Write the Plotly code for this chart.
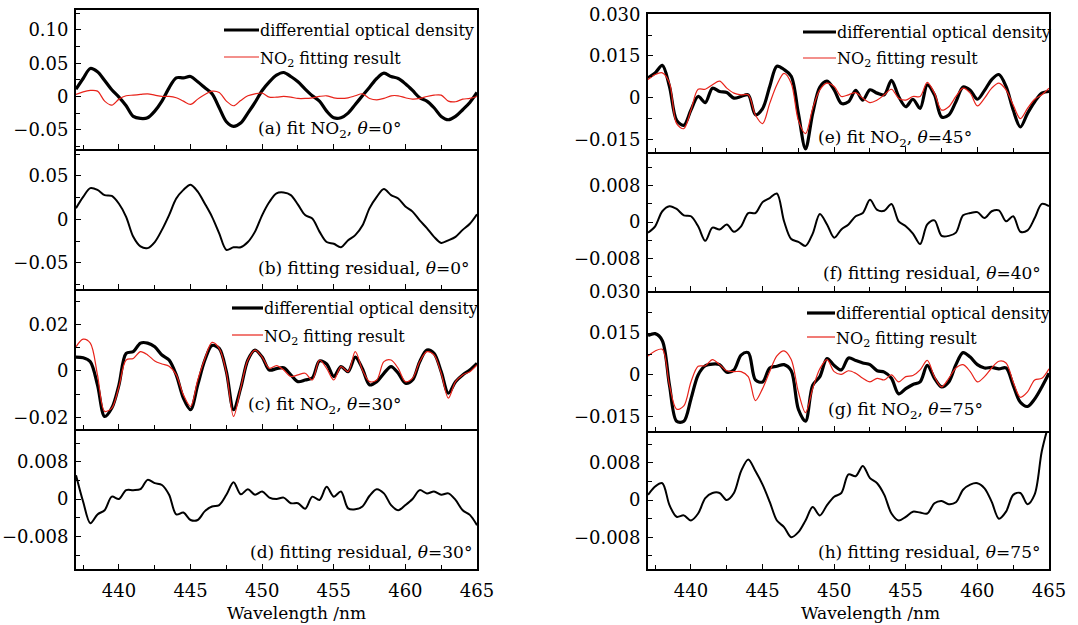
import plotly.graph_objects as go

# Wavelength grid (nm) shared by every curve
wavelength = [437.0, 437.5, 438.0, 438.5, 439.0, 439.5, 440.0, 440.5, 441.0, 441.5,
              442.0, 442.5, 443.0, 443.5, 444.0, 444.5, 445.0, 445.5, 446.0, 446.5,
              447.0, 447.5, 448.0, 448.5, 449.0, 449.5, 450.0, 450.5, 451.0, 451.5,
              452.0, 452.5, 453.0, 453.5, 454.0, 454.5, 455.0, 455.5, 456.0, 456.5,
              457.0, 457.5, 458.0, 458.5, 459.0, 459.5, 460.0, 460.5, 461.0, 461.5,
              462.0, 462.5, 463.0, 463.5, 464.0, 464.5, 465.0]

# (a) theta = 0 deg
a_dod = [0.011, 0.027, 0.042, 0.037, 0.024, 0.010, -0.001, -0.014, -0.030, -0.033,
         -0.032, -0.022, -0.007, 0.013, 0.028, 0.028, 0.030, 0.022, 0.013, 0.004,
         -0.017, -0.038, -0.045, -0.040, -0.025, -0.009, 0.009, 0.022, 0.032, 0.036,
         0.030, 0.022, 0.011, 0.001, -0.007, -0.022, -0.032, -0.032, -0.025, -0.012,
         0.001, 0.014, 0.027, 0.035, 0.030, 0.027, 0.019, 0.009, -0.002, -0.007,
         -0.017, -0.030, -0.035, -0.030, -0.020, -0.009, 0.006]
a_no2 = [0.003, 0.007, 0.009, 0.008, -0.007, -0.013, -0.004, 0.001, 0.002, 0.003,
         0.004, 0.002, 0.000, 0.000, -0.002, -0.007, -0.012, -0.004, 0.003, 0.008,
         0.006, -0.007, -0.014, -0.006, 0.001, 0.004, 0.005, -0.001, -0.001, 0.000,
         -0.001, -0.003, -0.003, -0.002, 0.000, 0.001, -0.002, -0.003, -0.002, 0.001,
         0.004, -0.003, -0.005, -0.003, 0.001, 0.001, -0.002, -0.004, -0.003, 0.000,
         0.002, 0.002, -0.007, -0.008, -0.004, -0.003, 0.000]
# (b) residual, theta = 0 deg
b_res = [0.013, 0.026, 0.036, 0.034, 0.028, 0.027, 0.018, 0.003, -0.020, -0.031,
         -0.033, -0.026, -0.012, 0.005, 0.024, 0.034, 0.040, 0.032, 0.018, 0.003,
         -0.016, -0.035, -0.032, -0.032, -0.026, -0.014, 0.005, 0.020, 0.030, 0.031,
         0.028, 0.017, 0.005, 0.001, -0.014, -0.026, -0.028, -0.032, -0.024, -0.018,
         -0.007, 0.013, 0.026, 0.035, 0.028, 0.024, 0.015, 0.009, -0.001, -0.010,
         -0.020, -0.027, -0.024, -0.020, -0.012, -0.005, 0.006]
# (c) theta = 30 deg
c_dod = [0.0060, 0.0057, 0.0040, -0.0060, -0.0196, -0.0160, -0.0060, 0.0076, 0.0083, 0.0120,
         0.0120, 0.0104, 0.0069, 0.0047, -0.0017, -0.0117, -0.0167, -0.0060, 0.0047, 0.0110,
         0.0097, -0.0003, -0.0167, -0.0074, 0.0047, 0.0090, 0.0060, 0.0004, 0.0010, 0.0014,
         -0.0017, -0.0046, -0.0039, -0.0030, 0.0043, 0.0030, -0.0024, 0.0019, -0.0003, 0.0060,
         0.0010, -0.0060, -0.0046, -0.0010, 0.0019, -0.0010, -0.0053, -0.0039, 0.0040, 0.0090,
         0.0076, -0.0003, -0.0096, -0.0046, -0.0017, 0.0004, 0.0033]
c_no2 = [0.0104, 0.0137, 0.0120, -0.0017, -0.0174, -0.0160, -0.0067, 0.0047, 0.0054, 0.0083,
         0.0069, 0.0043, 0.0030, 0.0020, -0.0017, -0.0103, -0.0153, -0.0039, 0.0054, 0.0123,
         0.0097, -0.0007, -0.0196, -0.0074, 0.0047, 0.0090, 0.0060, 0.0011, 0.0023, 0.0004,
         -0.0024, -0.0017, -0.0010, -0.0039, 0.0047, 0.0011, -0.0039, 0.0019, -0.0003, 0.0083,
         0.0004, -0.0046, -0.0039, 0.0040, 0.0047, 0.0011, -0.0046, -0.0031, 0.0040, 0.0083,
         0.0069, -0.0010, -0.0117, -0.0046, -0.0017, -0.0003, 0.0026]
# (d) residual, theta = 30 deg
d_res = [0.0051, -0.0006, -0.0052, -0.0033, -0.0024, 0.0005, 0.0000, 0.0019, 0.0019, 0.0021,
         0.0041, 0.0034, 0.0030, 0.0009, -0.0033, -0.0029, -0.0045, -0.0045, -0.0026, -0.0016,
         -0.0013, 0.0009, 0.0036, 0.0010, 0.0021, 0.0009, 0.0016, 0.0003, 0.0000, 0.0003,
         -0.0009, -0.0009, -0.0021, 0.0005, -0.0002, 0.0026, 0.0005, 0.0016, -0.0020, -0.0022,
         -0.0016, 0.0007, 0.0021, 0.0012, -0.0013, -0.0024, -0.0013, 0.0000, 0.0019, 0.0012,
         0.0016, 0.0009, 0.0012, -0.0002, -0.0024, -0.0034, -0.0056]
# (e) theta = 45 deg
e_dod = [0.0071, 0.0089, 0.0116, 0.0040, -0.0082, -0.0100, -0.0045, 0.0004, -0.0018, 0.0034,
         0.0022, 0.0018, -0.0002, 0.0004, 0.0010, -0.0062, -0.0040, 0.0040, 0.0113, 0.0101,
         0.0077, -0.0057, -0.0185, -0.0057, 0.0038, 0.0059, 0.0028, -0.0021, -0.0015, 0.0026,
         -0.0009, 0.0028, 0.0016, 0.0010, 0.0062, 0.0004, -0.0033, -0.0006, -0.0039, 0.0046,
         0.0010, -0.0070, -0.0063, -0.0015, 0.0038, 0.0026, -0.0006, 0.0026, 0.0065, 0.0083,
         0.0040, -0.0045, -0.0106, -0.0057, -0.0015, 0.0016, 0.0022]
e_no2 = [0.0065, 0.0083, 0.0089, 0.0052, -0.0094, -0.0112, -0.0045, 0.0030, 0.0030, 0.0046,
         0.0059, 0.0034, 0.0016, 0.0010, 0.0010, -0.0063, -0.0094, -0.0021, 0.0046, 0.0087,
         0.0052, -0.0082, -0.0130, -0.0039, 0.0028, 0.0052, 0.0040, 0.0004, 0.0010, 0.0018,
         -0.0002, -0.0018, -0.0009, 0.0010, 0.0030, -0.0002, -0.0009, 0.0004, 0.0004, 0.0055,
         0.0016, -0.0045, -0.0033, 0.0004, 0.0034, 0.0016, -0.0030, -0.0002, 0.0034, 0.0052,
         0.0028, -0.0027, -0.0076, -0.0039, -0.0006, 0.0010, 0.0034]
# (f) residual, theta = 40 deg
f_res = [-0.0023, -0.0009, 0.0024, 0.0035, 0.0029, 0.0015, 0.0013, -0.0009, -0.0041, -0.0012,
         -0.0016, -0.0005, -0.0021, -0.0009, 0.0020, 0.0020, 0.0044, 0.0053, 0.0063, 0.0002,
         -0.0037, -0.0043, -0.0052, -0.0025, 0.0018, -0.0005, -0.0034, -0.0016, -0.0005, 0.0013,
         0.0020, 0.0049, 0.0027, 0.0025, 0.0040, 0.0002, -0.0009, -0.0025, -0.0048, -0.0005,
         0.0004, -0.0030, -0.0030, -0.0023, 0.0015, 0.0020, 0.0022, 0.0009, 0.0024, 0.0026,
         0.0002, 0.0013, -0.0021, -0.0018, 0.0009, 0.0040, 0.0035]
# (g) theta = 75 deg
g_dod = [0.0141, 0.0148, 0.0123, -0.0037, -0.0166, -0.0166, -0.0086, 0.0000, 0.0033, 0.0039,
         0.0037, 0.0010, 0.0018, 0.0071, 0.0080, -0.0018, -0.0025, 0.0025, 0.0031, 0.0037,
         0.0015, -0.0123, -0.0166, -0.0037, -0.0006, 0.0059, 0.0034, 0.0018, 0.0061, 0.0052,
         0.0043, 0.0037, 0.0015, 0.0010, -0.0012, -0.0068, -0.0049, -0.0034, -0.0025, 0.0034,
         -0.0012, -0.0043, -0.0025, 0.0037, 0.0080, 0.0064, 0.0037, 0.0025, 0.0027, 0.0022,
         0.0025, -0.0037, -0.0098, -0.0113, -0.0086, -0.0043, 0.0006]
g_no2 = [0.0068, 0.0086, 0.0092, -0.0037, -0.0123, -0.0111, -0.0025, 0.0031, 0.0033, 0.0055,
         0.0037, 0.0015, 0.0012, 0.0012, -0.0006, -0.0092, -0.0049, 0.0012, 0.0068, 0.0086,
         0.0055, -0.0061, -0.0135, -0.0049, 0.0022, 0.0055, 0.0012, 0.0002, 0.0015, 0.0006,
         -0.0012, -0.0025, -0.0012, -0.0018, 0.0000, -0.0025, -0.0006, -0.0002, 0.0018, 0.0052,
         -0.0006, -0.0043, -0.0012, 0.0025, 0.0037, 0.0012, -0.0025, -0.0006, 0.0025, 0.0049,
         0.0043, -0.0025, -0.0080, -0.0061, -0.0018, -0.0012, 0.0022]
# (h) residual, theta = 75 deg
h_res = [0.0011, 0.0029, 0.0036, -0.0011, -0.0036, -0.0033, -0.0044, -0.0029, 0.0004, 0.0015,
         0.0015, 0.0000, 0.0015, 0.0062, 0.0087, 0.0062, 0.0033, -0.0004, -0.0044, -0.0058,
         -0.0080, -0.0069, -0.0044, -0.0015, -0.0033, -0.0011, 0.0007, 0.0015, 0.0055, 0.0051,
         0.0073, 0.0047, 0.0036, 0.0011, -0.0029, -0.0044, -0.0036, -0.0025, -0.0027, -0.0029,
         -0.0007, -0.0002, -0.0009, -0.0005, 0.0022, 0.0033, 0.0036, 0.0025, -0.0004, -0.0040,
         -0.0025, 0.0011, 0.0015, -0.0009, 0.0012, 0.0105, 0.0165]

x_ticks = [440, 445, 450, 455, 460, 465]
x_minor = [437.5, 442.5, 447.5, 452.5, 457.5, 462.5]

W, H = 1078, 625
FONT = "DejaVu Serif"


def fx(px):
    return px / W


def fy(py):
    return 1 - py / H


# panel geometry (pixel boxes) and axis settings
panels = [
    # name, x-box, y-box, y-range, tick values, tick text, minor ticks, bottom labels, top line
    ("a", (76, 477), (10, 149), [-0.079, 0.130], [0.10, 0.05, 0, -0.05],
     ["0.10", "0.05", "0", "\u22120.05"], [-0.075, -0.025, 0.025, 0.075, 0.125], False, True),
    ("b", (76, 477), (149, 289), [-0.080, 0.081], [0.05, 0, -0.05],
     ["0.05", "0", "\u22120.05"], [-0.075, -0.025, 0.025, 0.075], False, False),
    ("c", (76, 477), (289, 429), [-0.025, 0.0353], [0.02, 0, -0.02],
     ["0.02", "0", "\u22120.02"], [-0.01, 0.01, 0.03], False, False),
    ("d", (76, 477), (429, 569), [-0.015, 0.015], [0.008, 0, -0.008],
     ["0.008", "0", "\u22120.008"], [-0.012, -0.004, 0.004, 0.012], True, False),
    ("e", (648, 1049), (14, 152), [-0.0196, 0.0301], [0.030, 0.015, 0, -0.015],
     ["0.030", "0.015", "0", "\u22120.015"], [-0.0075, 0.0075, 0.0225], False, True),
    ("f", (648, 1049), (152, 291), [-0.0151, 0.0154], [0.008, 0, -0.008],
     ["0.008", "0", "\u22120.008"], [-0.012, -0.004, 0.004, 0.012], False, False),
    ("g", (648, 1049), (291, 431), [-0.0201, 0.0301], [0.030, 0.015, 0, -0.015],
     ["0.030", "0.015", "0", "\u22120.015"], [-0.0075, 0.0075, 0.0225], False, False),
    ("h", (648, 1049), (431, 569), [-0.0148, 0.0148], [0.008, 0, -0.008],
     ["0.008", "0", "\u22120.008"], [-0.012, -0.004, 0.004, 0.012], True, False),
]

RED = "#e8231a"
series = {
    "a": [(a_dod, "black", 3.2), (a_no2, RED, 1.2)],
    "b": [(b_res, "black", 2.0)],
    "c": [(c_dod, "black", 3.2), (c_no2, RED, 1.2)],
    "d": [(d_res, "black", 2.0)],
    "e": [(e_dod, "black", 3.2), (e_no2, RED, 1.2)],
    "f": [(f_res, "black", 2.0)],
    "g": [(g_dod, "black", 3.2), (g_no2, RED, 1.2)],
    "h": [(h_res, "black", 2.0)],
}

fig = go.Figure()
layout = {}
for i, (name, xb, yb, yr, tv, tt, mv, show_x, top_line) in enumerate(panels, start=1):
    sfx = "" if i == 1 else str(i)
    # draw the residual / fit curves of this panel
    for ys, col, lw in series[name]:
        fig.add_trace(go.Scatter(
            x=wavelength, y=ys, mode="lines",
            line=dict(color=col, width=lw, shape="spline", smoothing=0.9),
            xaxis="x" + sfx, yaxis="y" + sfx, showlegend=False,
            hoverinfo="skip"))
    layout["xaxis" + sfx] = dict(
        domain=[fx(xb[0]), fx(xb[1])], range=[437, 465], anchor="y" + sfx,
        tickvals=x_ticks, ticktext=[str(v) for v in x_ticks],
        showticklabels=show_x, ticks="inside", ticklen=5, tickwidth=1.4,
        tickcolor="black", minor=dict(tickvals=x_minor, ticks="inside",
                                      ticklen=4, tickwidth=1.2, tickcolor="black"),
        showline=True, linecolor="black", linewidth=1.8, mirror=top_line,
        showgrid=False, zeroline=False, automargin=False, ticklabelstandoff=4,
        tickfont=dict(family=FONT, size=18, color="black"))
    layout["yaxis" + sfx] = dict(
        domain=[fy(yb[1]), fy(yb[0])], range=yr, anchor="x" + sfx,
        tickvals=tv, ticktext=tt, ticks="inside", ticklen=5, tickwidth=1.4,
        tickcolor="black", minor=dict(tickvals=mv, ticks="inside", ticklen=4,
                                      tickwidth=1.2, tickcolor="black"),
        showline=True, linecolor="black", linewidth=1.8, mirror=True,
        showgrid=False, zeroline=False, automargin=False, ticklabelstandoff=2,
        tickfont=dict(family=FONT, size=18, color="black"))

annotations = []
shapes = []

# legend entries drawn inside the fit panels
legend_spots = [
    # (sample x0, x1, black row y, red row y)
    (224, 259, 30, 57),
    (232, 263, 308, 335),
    (803, 836, 32, 58),
    (807, 835, 313, 337),
]
for x0, x1, yb_, yr_ in legend_spots:
    shapes.append(dict(type="line", xref="paper", yref="paper",
                       x0=fx(x0), x1=fx(x1), y0=fy(yb_), y1=fy(yb_),
                       line=dict(color="black", width=3.2)))
    shapes.append(dict(type="line", xref="paper", yref="paper",
                       x0=fx(x0), x1=fx(x1), y0=fy(yr_), y1=fy(yr_),
                       line=dict(color=RED, width=1.2)))
    annotations.append(dict(text="differential optical density", x=fx(x1), y=fy(yb_),
                            xref="paper", yref="paper", xanchor="left", yanchor="middle",
                            showarrow=False, borderpad=0,
                            font=dict(family=FONT, size=16, color="black")))
    annotations.append(dict(text="NO<sub>2</sub> fitting result", x=fx(x1), y=fy(yr_ + 2),
                            xref="paper", yref="paper", xanchor="left", yanchor="middle",
                            showarrow=False, borderpad=0,
                            font=dict(family=FONT, size=16, color="black")))

# panel captions
captions = [
    ("(a) fit NO<sub>2</sub>, <i>\u03b8</i>=0\u00b0", 257, 130, "left"),
    ("(b) fitting residual, <i>\u03b8</i>=0\u00b0", 471, 268, "right"),
    ("(c) fit NO<sub>2</sub>, <i>\u03b8</i>=30\u00b0", 247, 405, "left"),
    ("(d) fitting residual, <i>\u03b8</i>=30\u00b0", 473, 552, "right"),
    ("(e) fit NO<sub>2</sub>, <i>\u03b8</i>=45\u00b0", 817, 139, "left"),
    ("(f) fitting residual, <i>\u03b8</i>=40\u00b0", 1042, 273, "right"),
    ("(g) fit NO<sub>2</sub>, <i>\u03b8</i>=75\u00b0", 827, 410, "left"),
    ("(h) fitting residual, <i>\u03b8</i>=75\u00b0", 1042, 552, "right"),
]
for txt, x, y, anc in captions:
    annotations.append(dict(text=txt, x=fx(x), y=fy(y), xref="paper", yref="paper",
                            xanchor=anc, yanchor="middle", showarrow=False, borderpad=0,
                            font=dict(family=FONT, size=17, color="black")))

# x-axis titles under both columns
for cx in (297, 870):
    annotations.append(dict(text="Wavelength /nm", x=fx(cx), y=fy(613), xref="paper",
                            yref="paper", xanchor="center", yanchor="middle",
                            showarrow=False, borderpad=0,
                            font=dict(family=FONT, size=17, color="black")))

fig.update_layout(
    width=W, height=H, autosize=False,
    margin=dict(l=0, r=0, t=0, b=0),
    paper_bgcolor="white", plot_bgcolor="white",
    annotations=annotations, shapes=shapes, showlegend=False,
    **layout)

fig.write_html("out.html")
